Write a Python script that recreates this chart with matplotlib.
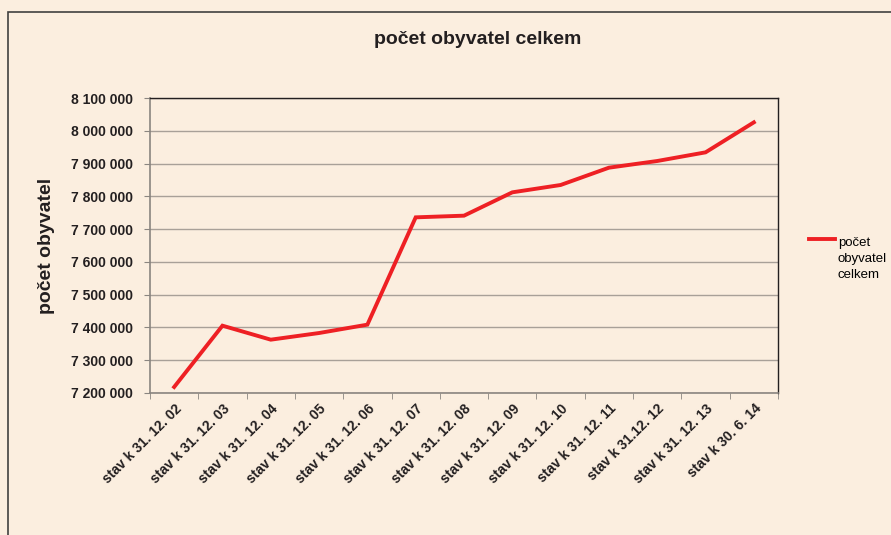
import matplotlib
matplotlib.use("Agg")
import matplotlib.pyplot as plt
from matplotlib.patches import Rectangle
from matplotlib.ticker import FuncFormatter, FixedLocator

plt.rcParams["font.family"] = ["Liberation Sans", "DejaVu Sans"]

BG = "#FBEEDF"

categories = [
    "stav k 31. 12. 02", "stav k 31. 12. 03", "stav k 31. 12. 04",
    "stav k 31. 12. 05", "stav k 31. 12. 06", "stav k 31. 12. 07",
    "stav k 31. 12. 08", "stav k 31. 12. 09", "stav k 31. 12. 10",
    "stav k 31. 12. 11", "stav k 31.12. 12", "stav k 31. 12. 13",
    "stav k 30. 6. 14",
]
population = [
    7218300, 7405400, 7362700, 7383000, 7408500, 7735900, 7741000,
    7812200, 7834600, 7887400, 7907800, 7934200, 8025700,
]
series_name = "počet\nobyvatel\ncelkem"
title = "počet obyvatel celkem"
y_label = "počet obyvatel"

fig = plt.figure(figsize=(8.91, 5.35), dpi=100)
fig.patch.set_facecolor(BG)
fig.patches.append(Rectangle((8 / 891, -0.1), 1.2, 1 - 12 / 535 + 0.1,
                             transform=fig.transFigure, fill=False,
                             edgecolor="#404040", linewidth=1.2))

ax = fig.add_axes([150 / 891, 1 - 393 / 535, 628 / 891, 295 / 535])
ax.set_facecolor(BG)

x = list(range(len(categories)))
ax.plot(x, population, color="#EE2024", linewidth=2.8, label=series_name,
        solid_joinstyle="miter")

ax.set_xlim(-0.5, len(categories) - 0.5)
ax.set_ylim(7200000, 8100000)
ax.set_yticks(range(7200000, 8100001, 100000))
ax.yaxis.set_major_formatter(FuncFormatter(lambda v, p: f"{int(v):,}".replace(",", " ")))
ax.grid(axis="y", color="#A8A098", linewidth=1)
ax.set_axisbelow(True)

ax.set_xticks(x)
ax.set_xticklabels(categories, rotation=45, ha="right", rotation_mode="anchor",
                   fontsize=10, fontweight="bold", color="#231F20")
ax.tick_params(axis="x", length=0, pad=6)
ax.xaxis.set_minor_locator(FixedLocator([i - 0.5 for i in range(len(categories) + 1)]))
ax.tick_params(axis="x", which="minor", length=4, color="#8A8580", direction="out")
ax.tick_params(axis="y", length=4, color="#8A8580", direction="out",
               labelsize=10, pad=8)
for lbl in ax.get_yticklabels():
    lbl.set_fontweight("bold")
    lbl.set_color("#231F20")

for side in ["left", "bottom"]:
    ax.spines[side].set_color("#8A8580")
    ax.spines[side].set_linewidth(1.2)
for side in ["top", "right"]:
    ax.spines[side].set_color("#231F20")
    ax.spines[side].set_linewidth(1)

ax.set_ylabel(y_label, fontsize=14, fontweight="bold", color="#231F20", labelpad=12)
fig.text(478 / 891, 1 - 40 / 535, title, ha="center", va="center",
         fontsize=14, fontweight="bold", color="#231F20")

leg = ax.legend(loc="center left", bbox_to_anchor=(1.03, 0.52), frameon=False,
                handlelength=2.0, handletextpad=0.2, fontsize=9.5, labelspacing=0)
for t in leg.get_texts():
    t.set_va("center")
    t.set_linespacing(1.45)

fig.savefig("out.png", dpi=100, facecolor=BG)
